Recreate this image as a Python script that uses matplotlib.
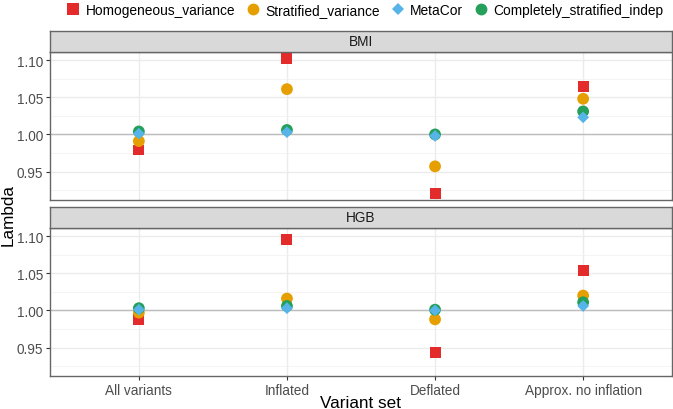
import numpy as np
import matplotlib.pyplot as plt
from matplotlib.lines import Line2D

plt.rcParams['font.family'] = ['Liberation Sans', 'DejaVu Sans']

categories = ["All variants", "Inflated", "Deflated", "Approx. no inflation"]
traits = ["BMI", "HGB"]
methods = ["Homogeneous_variance", "Stratified_variance", "MetaCor", "Completely_stratified_indep"]

# lambda values per trait, per method, in category order
bmi = {
    "Homogeneous_variance": [0.979, 1.102, 0.921, 1.065],
    "Stratified_variance": [0.991, 1.061, 0.957, 1.048],
    "MetaCor": [1.001, 1.003, 0.998, 1.023],
    "Completely_stratified_indep": [1.004, 1.006, 1.000, 1.031],
}
hgb = {
    "Homogeneous_variance": [0.988, 1.095, 0.943, 1.054],
    "Stratified_variance": [0.997, 1.016, 0.988, 1.020],
    "MetaCor": [1.001, 1.003, 1.000, 1.006],
    "Completely_stratified_indep": [1.003, 1.006, 1.001, 1.011],
}
data = [bmi, hgb]

colors = {
    "Homogeneous_variance": "#E32B2B",
    "Stratified_variance": "#E69F00",
    "MetaCor": "#56B4E9",
    "Completely_stratified_indep": "#25A05B",
}
markers = {
    "Homogeneous_variance": "s",
    "Stratified_variance": "o",
    "MetaCor": "D",
    "Completely_stratified_indep": "o",
}
sizes = {
    "Homogeneous_variance": 62,
    "Stratified_variance": 72,
    "MetaCor": 36,
    "Completely_stratified_indep": 72,
}
draw_order = ["Homogeneous_variance", "Stratified_variance",
              "Completely_stratified_indep", "MetaCor"]

W, H = 673, 410
fig = plt.figure(figsize=(W / 100, H / 100), dpi=100)

border = "#666666"
x = np.arange(len(categories))
ymin, ymax = 0.9117, 1.111

panels = [(53, 201, 32), (229, 377, 208)]
for i, (top, bot, stop) in enumerate(panels):
    ax = fig.add_axes([50 / W, 1 - bot / H, 622 / W, (bot - top) / H])
    ax.set_xlim(-0.6, len(categories) - 0.4)
    ax.set_ylim(ymin, ymax)
    ax.set_yticks([0.95, 1.00, 1.05, 1.10])
    ax.set_yticklabels(["0.95", "1.00", "1.05", "1.10"])
    ax.set_yticks([0.925, 0.975, 1.025, 1.075], minor=True)
    ax.set_xticks(x)
    ax.grid(True, which="major", color="#EBEBEB", lw=1.0, zorder=0)
    ax.grid(True, which="minor", axis="y", color="#F2F2F2", lw=0.6, zorder=0)
    ax.tick_params(which="minor", length=0)
    ax.axhline(1.0, color="#BDBDBD", lw=1.0, zorder=1)
    ax.set_axisbelow(True)
    ax.tick_params(axis="both", which="major", length=3, width=0.8, color="#333333",
                   labelcolor="#4D4D4D", labelsize=9.8, pad=2)
    if i == 0:
        ax.tick_params(axis="x", length=0, labelbottom=False)
    else:
        ax.set_xticklabels(categories)
    for s in ax.spines.values():
        s.set_color(border)
        s.set_linewidth(1.0)
    d = data[i]
    for m in draw_order:
        ax.scatter(x, d[m], marker=markers[m], s=sizes[m], color=colors[m],
                   edgecolors="none", zorder=3, clip_on=False)

    sax = fig.add_axes([50 / W, 1 - top / H, 622 / W, (top - stop) / H])
    sax.set_facecolor("#D9D9D9")
    sax.set_xticks([])
    sax.set_yticks([])
    for s in sax.spines.values():
        s.set_color(border)
        s.set_linewidth(1.0)
    sax.text(0.5, 0.5, traits[i], ha="center", va="center", fontsize=9.8,
             color="#1A1A1A", transform=sax.transAxes)

fig.text(8 / W, 1 - 215 / H, "Lambda", rotation=90, ha="center", va="center",
         fontsize=12.3, color="black")
fig.text(361 / W, 1 - 404 / H, "Variant set", ha="center", va="center",
         fontsize=12.3, color="black")

handles = [Line2D([], [], ls="none", marker=markers[m], color=colors[m],
                  markersize=(8.5 if m != "MetaCor" else 6.5), markeredgewidth=0)
           for m in methods]
fig.legend(handles, methods, loc="center", bbox_to_anchor=(365 / W, 1 - 11 / H),
           ncol=4, frameon=False, fontsize=9.9, handlelength=1.0,
           handletextpad=0.4, columnspacing=0.8, borderaxespad=0)

fig.savefig("out.png", dpi=100)
